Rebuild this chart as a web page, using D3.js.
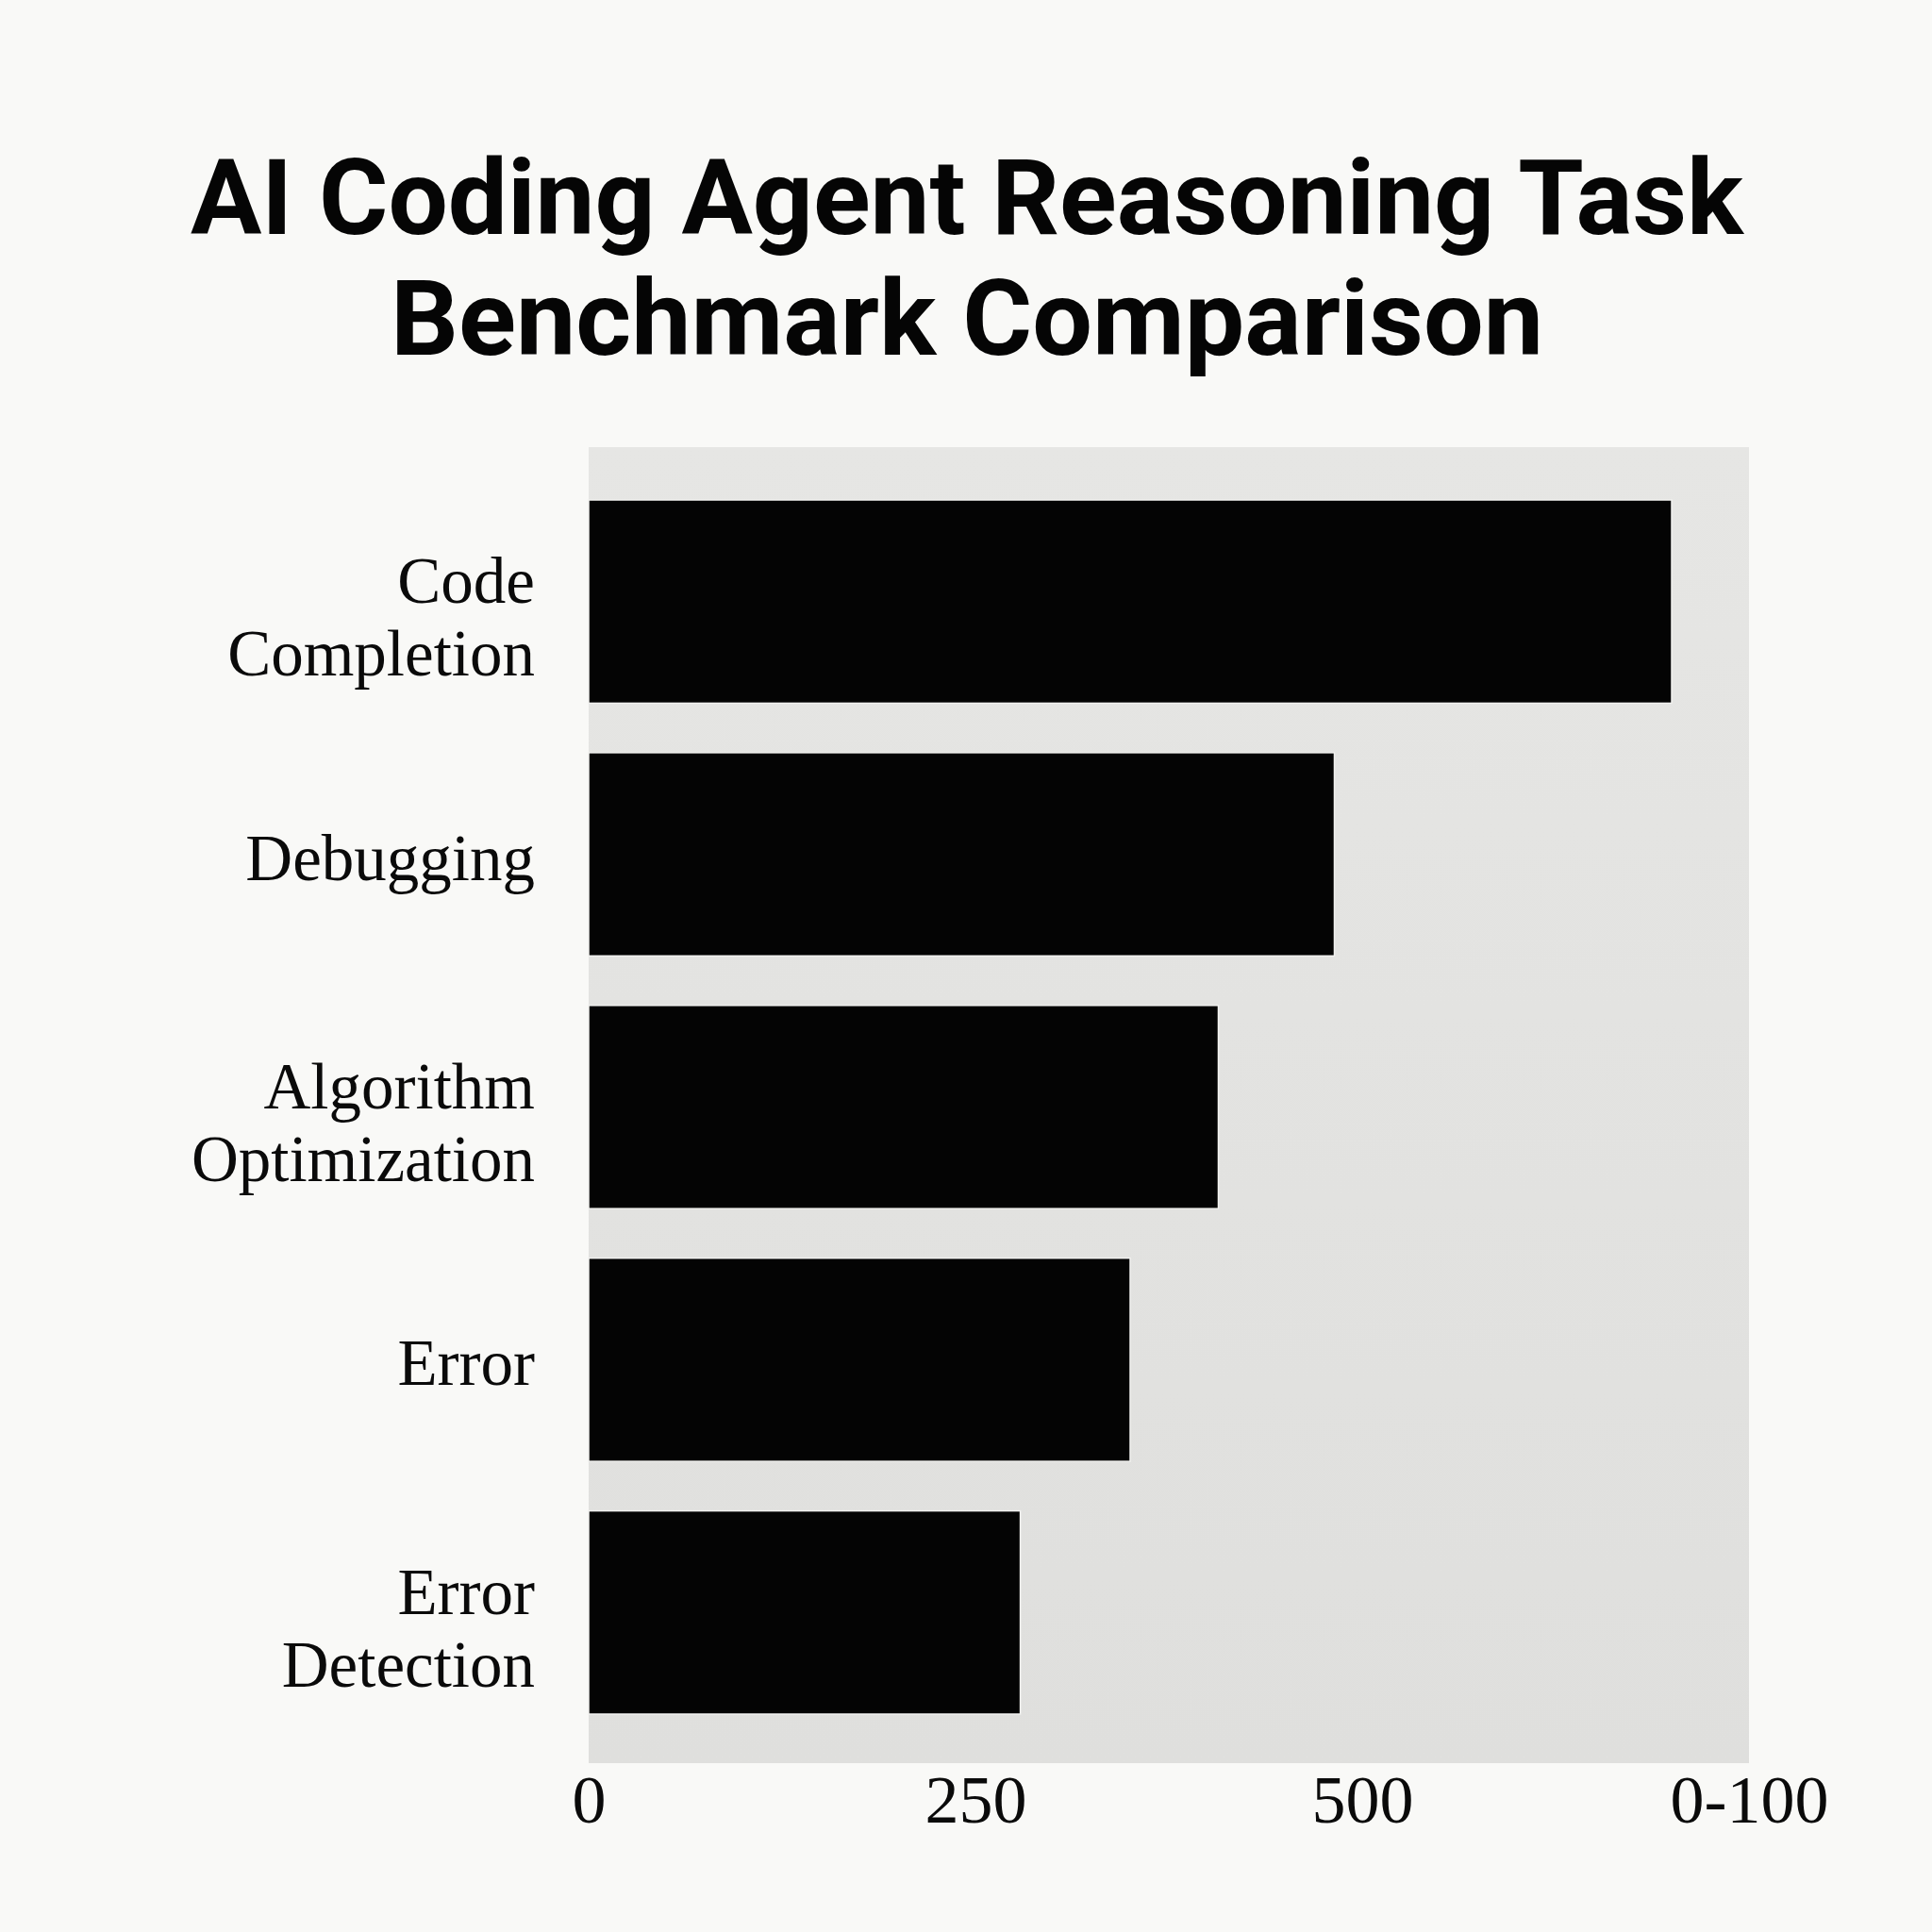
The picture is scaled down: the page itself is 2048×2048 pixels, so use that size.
<!DOCTYPE html>
<html>
<head>
<meta charset="utf-8">
<script src="https://cdn.jsdelivr.net/npm/d3@7"></script>
<style>
  html, body { margin: 0; padding: 0; background: #f9f9f7; }
  svg { display: block; }
</style>
</head>
<body>
<svg id="chart" width="2048" height="2048"></svg>
<script>
// ---- data ----
const titleLines = ["AI Coding Agent Reasoning Task", "Benchmark Comparison"];
const categories = ["Code Completion", "Debugging", "Algorithm Optimization", "Error", "Error Detection"];
const categoryLabelLines = [["Code", "Completion"], ["Debugging"], ["Algorithm", "Optimization"], ["Error"], ["Error", "Detection"]];
const values = [700, 482, 407, 350, 279];
const tickValues = [0, 250, 500, 750];
const tickLabels = ["0", "250", "500", "0-100"];

// ---- layout ----
const W = 2048, H = 2048;
const plot = { left: 624, right: 1854, top: 474, bottom: 1869 };

const svg = d3.select("#chart");
svg.append("rect").attr("width", W).attr("height", H).attr("fill", "#f9f9f7");

// title
const title = svg.append("g");
const titleWidths = [1646, 1222];
const titleBaselines = [248, 376];
titleLines.forEach((t, i) => {
  title.append("text")
    .attr("x", 1025).attr("y", titleBaselines[i])
    .attr("text-anchor", "middle")
    .attr("font-family", "Roboto, 'Liberation Sans', Arial, sans-serif")
    .attr("font-weight", 700)
    .attr("font-size", 112)
    .attr("textLength", titleWidths[i])
    .attr("lengthAdjust", "spacingAndGlyphs")
    .attr("fill", "#050505")
    .text(t);
});

// scales
const x = d3.scaleLinear().domain([0, 750]).range([plot.left, plot.right]);
const y = d3.scaleBand().domain(categories).range([530, 1817])
  .paddingInner(0.196).paddingOuter(0);

// plot background
const grad = svg.append("defs").append("linearGradient")
  .attr("id", "bg").attr("x1", 0).attr("y1", 0).attr("x2", 0).attr("y2", 1);
grad.append("stop").attr("offset", "0%").attr("stop-color", "#e6e6e4");
grad.append("stop").attr("offset", "100%").attr("stop-color", "#dfdfdd");
svg.append("rect")
  .attr("x", plot.left).attr("y", plot.top)
  .attr("width", plot.right - plot.left).attr("height", plot.bottom - plot.top)
  .attr("fill", "url(#bg)");

// bars
svg.append("g").selectAll("rect")
  .data(categories)
  .join("rect")
  .attr("x", x(0))
  .attr("y", d => y(d))
  .attr("width", (d, i) => x(values[i]) - x(0))
  .attr("height", y.bandwidth())
  .attr("fill", "#040404")
  .attr("stroke", "#f2f2f0")
  .attr("stroke-width", 1.5);

// x axis
const xAxis = d3.axisBottom(x)
  .tickValues(tickValues)
  .tickFormat((d, i) => tickLabels[i])
  .tickSize(0)
  .tickPadding(0);
const gx = svg.append("g").attr("transform", `translate(0,${plot.bottom})`).call(xAxis);
gx.select(".domain").remove();
gx.selectAll("text")
  .attr("y", 63).attr("dy", 0)
  .attr("font-family", "'Liberation Serif', 'Times New Roman', serif")
  .attr("font-size", 72)
  .attr("fill", "#0a0a0a");

// y axis
const yAxis = d3.axisLeft(y).tickSize(0).tickPadding(0);
const gy = svg.append("g").attr("transform", `translate(${plot.left - 57},0)`).call(yAxis);
gy.select(".domain").remove();
gy.selectAll(".tick text").each(function(d) {
  const lines = categoryLabelLines[categories.indexOf(d)];
  const t = d3.select(this);
  t.text(null).attr("dy", null).attr("x", 0)
    .attr("text-anchor", "end")
    .attr("font-family", "'Liberation Serif', 'Times New Roman', serif")
    .attr("font-size", 69)
    .attr("fill", "#0a0a0a");
  const lh = 77;
  const first = lines.length === 1 ? 27 : 40 - lh / 2;
  lines.forEach((l, i) => {
    t.append("tspan").attr("x", 0).attr("y", first + i * lh).text(l);
  });
});
</script>
</body>
</html>
